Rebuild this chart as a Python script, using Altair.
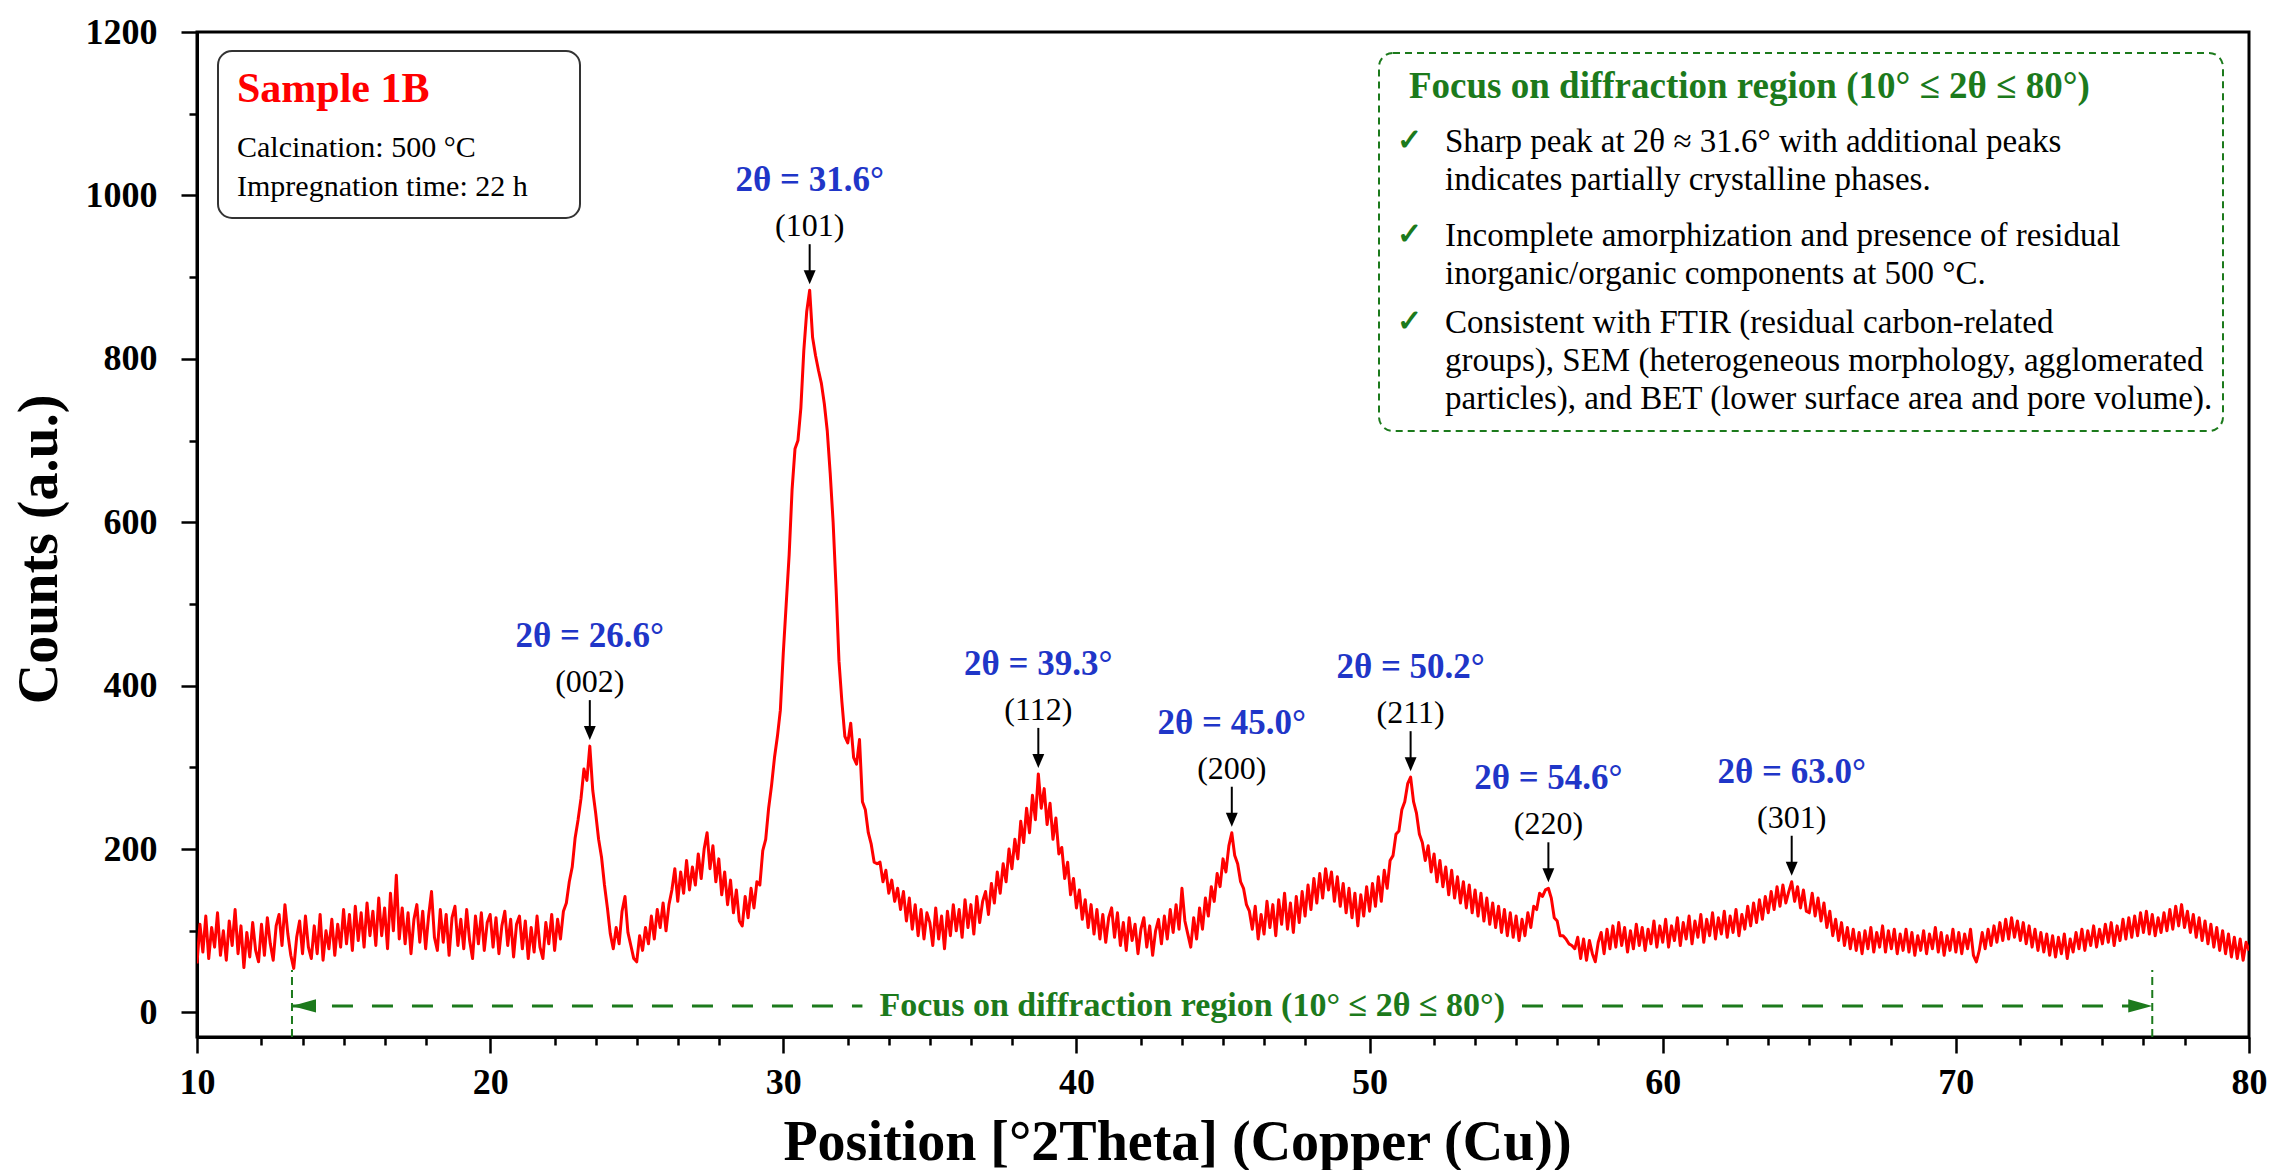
import altair as alt
import pandas as pd

SERIF = "Liberation Serif"
RED = "#ff0000"
BLUE = "#1f36c8"
GREEN = "#1c7a1c"

# ---------------------------------------------------------------------------
# XRD scan of sample 1B, sampled every 0.1 degree from 10.0 to 80.0 (2-theta)
# ---------------------------------------------------------------------------
THETA_START = 10.0
THETA_STEP = 0.1

counts_10s = [
    60, 108, 74, 118, 66, 104, 80, 122, 70, 100,
    64, 112, 82, 126, 72, 106, 55, 98, 68, 110,
    76, 62, 108, 70, 116, 84, 64, 106, 120, 82,
    132, 96, 70, 54, 92, 112, 72, 118, 80, 66,
    106, 72, 120, 64, 100, 78, 114, 70, 108, 80,
    126, 84, 120, 76, 130, 88, 122, 80, 134, 94,
    124, 82, 140, 94, 128, 78, 146, 100, 168, 90,
    128, 84, 122, 72, 114, 132, 86, 124, 78, 118,
    148, 92, 76, 126, 86, 120, 70, 116, 130, 82,
    114, 78, 126, 88, 66, 118, 84, 122, 76, 110,
]
counts_20s = [
    120, 80, 116, 72, 106, 124, 82, 114, 68, 108,
    118, 78, 112, 66, 104, 74, 118, 80, 66, 110,
    84, 120, 76, 114, 90, 124, 134, 160, 178, 214,
    236, 262, 298, 284, 326, 272, 244, 212, 190, 156,
    128, 96, 78, 104, 84, 124, 142, 98, 82, 66,
    62, 94, 76, 104, 84, 118, 90, 126, 104, 134,
    100, 132, 150, 176, 136, 172, 146, 186, 150, 178,
    156, 194, 164, 200, 220, 176, 204, 160, 188, 144,
    172, 132, 162, 122, 150, 112, 106, 142, 116, 152,
    128, 160, 156, 198, 212, 250, 278, 312, 338, 370,
]
counts_30s = [
    440, 500, 560, 640, 690, 700, 740, 810, 858, 884,
    826, 804, 786, 770, 745, 712, 660, 600, 520, 430,
    380, 338, 330, 354, 312, 304, 334, 258, 248, 220,
    206, 184, 182, 184, 160, 174, 146, 162, 136, 152,
    126, 148, 112, 140, 102, 132, 94, 126, 90, 122,
    110, 82, 128, 90, 118, 78, 124, 94, 132, 100,
    126, 92, 138, 104, 132, 96, 142, 110, 136, 148,
    120, 158, 134, 172, 146, 182, 160, 200, 176, 212,
    188, 234, 208, 250, 220, 266, 236, 292, 250, 274,
    230, 256, 212, 238, 194, 202, 164, 184, 144, 164,
]
counts_40s = [
    128, 150, 114, 138, 104, 132, 96, 126, 90, 120,
    86, 116, 128, 92, 122, 82, 110, 76, 116, 88,
    108, 72, 102, 116, 80, 106, 70, 100, 114, 84,
    118, 90, 126, 98, 132, 102, 152, 112, 96, 80,
    116, 90, 128, 102, 140, 118, 154, 136, 170, 154,
    188, 172, 204, 220, 192, 182, 160, 152, 132, 124,
    102, 130, 90, 120, 96, 136, 104, 132, 94, 138,
    108, 146, 102, 134, 98, 142, 110, 148, 118, 156,
    126, 164, 134, 170, 140, 176, 150, 172, 136, 166,
    130, 158, 122, 152, 116, 146, 106, 144, 118, 154,
]
counts_50s = [
    124, 158, 130, 166, 136, 174, 152, 186, 192, 218,
    222, 248, 258, 280, 288, 258, 244, 218, 208, 186,
    204, 172, 194, 160, 186, 154, 178, 144, 174, 140,
    166, 134, 160, 128, 156, 122, 150, 118, 146, 112,
    140, 108, 134, 104, 130, 98, 126, 94, 122, 92,
    118, 88, 114, 94, 122, 104, 130, 126, 146, 142,
    150, 152, 140, 116, 112, 94, 94, 90, 84, 82,
    78, 92, 66, 90, 64, 88, 72, 62, 86, 98,
    72, 102, 78, 106, 80, 110, 82, 104, 74, 100,
    78, 108, 82, 104, 76, 102, 84, 112, 80, 106,
]
counts_60s = [
    86, 114, 80, 106, 88, 116, 82, 110, 90, 118,
    84, 112, 92, 120, 86, 114, 94, 122, 90, 116,
    96, 124, 92, 118, 98, 126, 94, 120, 102, 130,
    106, 134, 110, 138, 114, 142, 122, 148, 126, 154,
    130, 156, 134, 148, 160, 136, 154, 128, 150, 124,
    122, 146, 118, 140, 112, 134, 104, 124, 94, 114,
    88, 110, 82, 104, 78, 102, 76, 98, 72, 100,
    78, 104, 74, 98, 80, 106, 74, 100, 78, 102,
    72, 96, 76, 102, 74, 98, 70, 94, 76, 100,
    72, 96, 78, 104, 74, 98, 70, 94, 76, 102,
]
counts_70s = [
    74, 98, 72, 96, 78, 102, 70, 62, 76, 98,
    78, 102, 82, 106, 86, 110, 88, 114, 90, 116,
    92, 112, 88, 110, 84, 106, 80, 102, 76, 98,
    74, 96, 70, 94, 68, 92, 72, 96, 66, 90,
    74, 98, 78, 102, 76, 100, 82, 106, 80, 102,
    84, 108, 86, 110, 82, 106, 88, 114, 90, 116,
    92, 118, 94, 122, 98, 124, 96, 120, 94, 116,
    98, 122, 100, 126, 102, 130, 106, 132, 104, 124,
    98, 120, 92, 116, 88, 112, 84, 108, 80, 104,
    76, 100, 72, 96, 68, 92, 66, 90, 64, 86,
]
counts_80 = [76]

# Indexed reflections: where the arrows point, and their labels
peak_theta = [23.4, 30.9, 38.7, 45.3, 51.4, 56.1, 64.4]
peak_counts = [326, 884, 292, 220, 288, 152, 160]
peak_angle_labels = ["2θ = 26.6°", "2θ = 31.6°", "2θ = 39.3°", "2θ = 45.0°",
                     "2θ = 50.2°", "2θ = 54.6°", "2θ = 63.0°"]
peak_hkl = ["(002)", "(101)", "(112)", "(200)", "(211)", "(220)", "(301)"]

# Focus-region marker along the bottom of the plot
region_label = "Focus on diffraction region (10° ≤ 2θ ≤ 80°)"
region_start, region_end = 13.24, 76.7
region_label_center = 43.95
region_gap = (32.7, 55.2)  # dashes stop around the label

# Sample card (top left) and summary card (top right)
sample_name = "Sample 1B"
sample_details = ["Calcination: 500 °C", "Impregnation time: 22 h"]
notes_title = "Focus on diffraction region (10° ≤ 2θ ≤ 80°)"
notes = [
    ["Sharp peak at 2θ ≈ 31.6° with additional peaks",
     "indicates partially crystalline phases."],
    ["Incomplete amorphization and presence of residual",
     "inorganic/organic components at 500 °C."],
    ["Consistent with FTIR (residual carbon-related",
     "groups), SEM (heterogeneous morphology, agglomerated",
     "particles), and BET (lower surface area and pore volume)."],
]

# Axis ticks
x_major = list(range(10, 81, 10))
x_minor_offsets = [2.2, 3.6, 5.0, 6.4, 7.8]
x_minor = [round(m + o, 1) for m in x_major[:-1] for o in x_minor_offsets]
y_major = list(range(0, 1201, 200))
y_minor = list(range(100, 1200, 200))

# ---------------------------------------------------------------------------
W, H = 2052, 1005
Y_MIN, Y_MAX = -30, 1200

counts = (counts_10s + counts_20s + counts_30s + counts_40s + counts_50s
          + counts_60s + counts_70s + counts_80)
theta = [round(THETA_START + i * THETA_STEP, 1) for i in range(len(counts))]
scan = pd.DataFrame({"theta": theta, "counts": counts})

xscale = alt.Scale(domain=[10, 80], nice=False, zero=False)
yscale = alt.Scale(domain=[Y_MIN, Y_MAX], nice=False, zero=False)

axis_style = dict(
    domainColor="black", domainWidth=3, tickColor="black", tickWidth=2.5,
    labelFont=SERIF, labelFontSize=36, labelFontWeight="bold", labelColor="black",
    titleFont=SERIF, titleFontSize=56, titleFontWeight="bold", titleColor="black",
    grid=False, labelFlush=False, labelOverlap=False, format="d",
)
minor_style = dict(
    domain=False, labels=False, grid=False, title=None,
    tickColor="black", tickWidth=2.5, tickSize=8,
)

x_axis = alt.Axis(
    orient="bottom", values=x_major, tickSize=16, labelPadding=12,
    title="Position [°2Theta] (Copper (Cu))",
    titleX=980, titleY=122, titleAlign="center", titleBaseline="alphabetic",
    **axis_style,
)
y_axis = alt.Axis(
    orient="left", values=y_major, tickSize=16, labelPadding=24,
    title="Counts (a.u.)",
    titleX=-141, titleY=517, titleAngle=270, titleAlign="center", titleBaseline="alphabetic",
    **axis_style,
)
x_minor_axis = alt.Axis(orient="bottom", values=x_minor, **minor_style)
y_minor_axis = alt.Axis(orient="left", values=y_minor, **minor_style)


def X(field="theta"):
    return alt.X(f"{field}:Q", scale=xscale, axis=None)


def Y(field="counts"):
    return alt.Y(f"{field}:Q", scale=yscale, axis=None)


# Diffraction pattern (carries the labelled axes)
pattern = alt.Chart(scan).mark_line(
    color=RED, strokeWidth=3, strokeJoin="round", clip=True
).encode(
    x=alt.X("theta:Q", scale=xscale, axis=x_axis),
    y=alt.Y("counts:Q", scale=yscale, axis=y_axis),
)
# Invisible copy that carries the minor ticks
minor_ticks = alt.Chart(scan).mark_line(opacity=0).encode(
    x=alt.X("theta:Q", scale=xscale, axis=x_minor_axis),
    y=alt.Y("counts:Q", scale=yscale, axis=y_minor_axis),
)

# Peak arrows and labels
peaks = pd.DataFrame({"theta": peak_theta, "counts": peak_counts,
                      "angle": peak_angle_labels, "hkl": peak_hkl})
DOWN_HEAD = "M -0.85 -1 L 0.85 -1 L 0 1 Z"
shafts = alt.Chart(peaks).mark_rule(
    color="black", strokeWidth=2, yOffset=-18, y2Offset=-46
).encode(x=X(), y=Y(), y2="counts")
heads = alt.Chart(peaks).mark_point(
    shape=DOWN_HEAD, size=196, filled=True, color="black", opacity=1, yOffset=-13
).encode(x=X(), y=Y())
hkl_text = alt.Chart(peaks).mark_text(
    font=SERIF, fontSize=32, color="black", baseline="middle", dy=-64
).encode(x=X(), y=Y(), text="hkl:N")
angle_text = alt.Chart(peaks).mark_text(
    font=SERIF, fontSize=35, fontWeight="bold", color=BLUE, baseline="middle", dy=-110
).encode(x=X(), y=Y(), text="angle:N")

# Focus-region marker
ARROW_Y = 8
MARK_TOP = 52
edges = pd.DataFrame({"theta": [region_start, region_end],
                      "counts": [Y_MIN, Y_MIN], "top": [MARK_TOP, MARK_TOP]})
edge_rules = alt.Chart(edges).mark_rule(
    color=GREEN, strokeWidth=2, strokeDash=[8, 5]
).encode(x=X(), y=Y(), y2="top")
dashes = pd.DataFrame({"theta": [region_start, region_gap[1]],
                       "theta2": [region_gap[0], region_end],
                       "counts": [ARROW_Y, ARROW_Y]})
dash_rules = alt.Chart(dashes).mark_rule(
    color=GREEN, strokeWidth=3, strokeDash=[21, 19]
).encode(x=X(), x2="theta2", y=Y())
left_head = alt.Chart(pd.DataFrame({"theta": [region_start], "counts": [ARROW_Y]})).mark_point(
    shape="M -1 0 L 1 -0.55 L 1 0.55 Z", size=576, filled=True, color=GREEN,
    opacity=1, xOffset=12
).encode(x=X(), y=Y())
right_head = alt.Chart(pd.DataFrame({"theta": [region_end], "counts": [ARROW_Y]})).mark_point(
    shape="M 1 0 L -1 -0.55 L -1 0.55 Z", size=576, filled=True, color=GREEN,
    opacity=1, xOffset=-12
).encode(x=X(), y=Y())
region_text = alt.Chart(
    pd.DataFrame({"theta": [region_label_center], "counts": [ARROW_Y], "label": [region_label]})
).mark_text(
    font=SERIF, fontSize=34, fontWeight="bold", color=GREEN, baseline="middle"
).encode(x=X(), y=Y(), text="label:N")

# Cards (pixel placement inside the plot area)
blank = alt.Data(values=[{}])


def card(x0, x1, y0, y1, **style):
    return alt.Chart(blank).mark_rect(cornerRadius=14, fill="white", **style).encode(
        x=alt.value(x0), x2=alt.value(x1), y=alt.value(y0), y2=alt.value(y1)
    )


def line_text(text, x, y, **style):
    return alt.Chart(blank).mark_text(
        font=SERIF, align="left", baseline="alphabetic", **style
    ).encode(x=alt.value(x), y=alt.value(y), text=alt.value(text))


sample_layers = [card(21, 383, 19, 186, stroke="#333333", strokeWidth=2)]
sample_layers.append(line_text(sample_name, 40, 70, fontSize=42, fontWeight="bold", color=RED))
for i, t in enumerate(sample_details):
    sample_layers.append(line_text(t, 40, 125 + 39 * i, fontSize=30, color="black"))

notes_layers = [card(1182, 2026, 21, 399, stroke=GREEN, strokeWidth=2, strokeDash=[7, 5])]
notes_layers.append(line_text(notes_title, 1212, 66, fontSize=37, fontWeight="bold", color=GREEN))
bullet_tops = [120, 214, 301]
for top, bullet in zip(bullet_tops, notes):
    notes_layers.append(line_text("✓", 1200, top - 2, fontSize=30, fontWeight="bold", color=GREEN))
    for j, t in enumerate(bullet):
        notes_layers.append(line_text(t, 1248, top + 38 * j, fontSize=33, color="black"))

chart = alt.layer(
    pattern, minor_ticks, edge_rules, dash_rules, left_head, right_head, region_text,
    shafts, heads, hkl_text, angle_text,
    *sample_layers, *notes_layers,
).resolve_axis(
    x="independent", y="independent"
).properties(
    width=W, height=H,
    autosize=alt.AutoSizeParams(type="none"),
    padding={"left": 197, "top": 32, "right": 29, "bottom": 133},
    background="white",
).configure_view(
    stroke="black", strokeWidth=3
)

chart.save("out.html", embed_options={"renderer": "svg", "actions": False})
